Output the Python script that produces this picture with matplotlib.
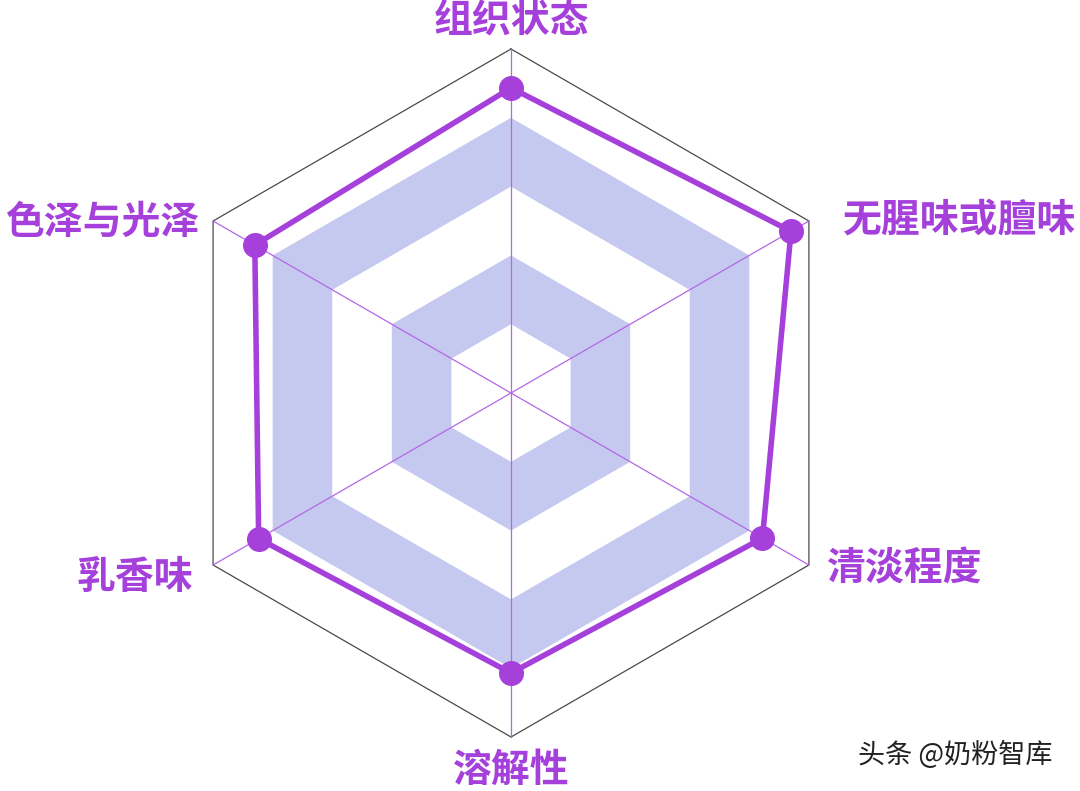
import numpy as np
import matplotlib.pyplot as plt

plt.rcParams['font.family'] = ['Noto Sans CJK SC', 'DejaVu Sans']

# 指标与得分 (满分 100)
categories = ['组织状态', '无腥味或膻味', '清淡程度', '溶解性', '乳香味', '色泽与光泽']
scores = [88.7, 94.0, 84.4, 81.4, 84.7, 86.0]
max_score = 100
levels = 5

purple = '#a540db'
band = '#c6c9ef'

# 从正上方开始顺时针
angles = np.deg2rad(90 - np.arange(len(categories)) * 60)

fig = plt.figure(figsize=(10.8, 7.91), dpi=100)
ax = fig.add_axes([0, 0, 1, 1])
R = 344.0
ax.set_xlim(-511 / R, (1080 - 511) / R)
ax.set_ylim(-(791 - 393) / R, 393 / R)
ax.set_aspect('equal')
ax.axis('off')

# 分隔区域 (由外向内)
for k in range(levels, 0, -1):
    r = k / levels
    xs = r * np.cos(angles)
    ys = r * np.sin(angles)
    ax.fill(xs, ys, color=band if k % 2 == 0 else 'white', lw=0, zorder=1)

# 外框
xs = np.cos(angles)
ys = np.sin(angles)
ax.plot(np.append(xs, xs[0]), np.append(ys, ys[0]), color='#4a4a4a', lw=0.9, zorder=2)

# 轴线
for a in angles:
    ax.plot([0, np.cos(a)], [0, np.sin(a)], color='#b367e6', lw=0.9, zorder=2)

# 数据
vals = np.array(scores) / max_score
dx = vals * np.cos(angles)
dy = vals * np.sin(angles)
ax.plot(np.append(dx, dx[0]), np.append(dy, dy[0]), color=purple, lw=4.0, zorder=3,
        solid_joinstyle='miter')
ax.plot(dx, dy, 'o', color=purple, ms=17, zorder=4)

# 指标名称
label_pos = [(0, 372, 'center'), (332, 173, 'left'), (315, -176, 'left'),
             (0, -377, 'center'), (-318, -184, 'right'), (-312, 171, 'right')]
for name, (px, py, ha) in zip(categories, label_pos):
    ax.text(px / R, py / R, name, ha=ha, va='center', color=purple,
            fontsize=28, fontweight='bold', zorder=5)

fig.text(858 / 1080, 1 - 755 / 791, '头条 @奶粉智库', ha='left', va='center',
         color='#222222', fontsize=19.5)

fig.savefig('out.png', dpi=100)
